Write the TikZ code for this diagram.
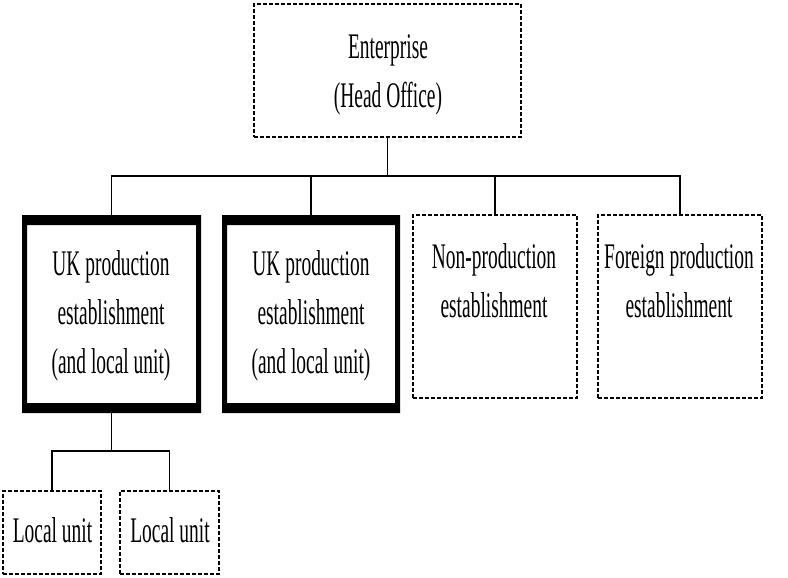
\documentclass[tikz,border=0pt]{standalone}
\usepackage{fontspec}
\setmainfont[FakeStretch=0.54]{Liberation Serif}
\begin{document}
\begin{tikzpicture}[x=1pt,y=-1pt,
  dbox/.style={draw, dash pattern=on 4pt off 2pt, line width=1.5pt, inner sep=0pt},
  tbox/.style={inner sep=0pt, outer sep=0pt},
  lbl/.style={inner sep=0pt, align=center, anchor=base, font=\fontsize{36}{49}\selectfont},
  conn/.style={line width=1.6pt}]
\useasboundingbox (0,0) rectangle (788,578);
% boxes
\node[dbox, minimum width=267pt, minimum height=133pt] (head) at (387.5,70.5) {};
\node[tbox, minimum width=179pt, minimum height=198pt] (uk1) at (111.5,314) {};
\node[tbox, minimum width=178pt, minimum height=198pt] (uk2) at (311,314) {};
\node[dbox, minimum width=164pt, minimum height=183pt] (nonp) at (495,306.5) {};
\node[dbox, minimum width=164pt, minimum height=183pt] (foreign) at (680,306.5) {};
\node[dbox, minimum width=98pt, minimum height=83pt] (loc1) at (52,532.5) {};
\node[dbox, minimum width=99pt, minimum height=83pt] (loc2) at (169.5,532.5) {};
% thick frames
\foreach \b in {uk1,uk2}{
  \fill[even odd rule] (\b.north west) rectangle (\b.south east)
    ([xshift=5pt,yshift=-10pt]\b.north west) rectangle ([xshift=-5pt,yshift=10pt]\b.south east);
}
% texts (anchor base = baseline of last line)
\node[lbl] (thead) at (388,107) {Enterprise\\(Head Office)};
\node[lbl] (tuk1) at (111,373) {UK production\\establishment\\(and local unit)};
\node[lbl] (tuk2) at (311,373) {UK production\\establishment\\(and local unit)};
\node[lbl] (tnonp) at (494,317) {Non-production\\establishment};
\node[lbl] (tforeign) at (679,317) {Foreign production\\establishment};
\node[lbl] (tloc1) at (52.5,542) {Local unit};
\node[lbl] (tloc2) at (170,542) {Local unit};
% connectors
\coordinate (bus) at (388,176);
\coordinate (sub) at (111,451);
\draw[conn] (head.south) -- (head.south |- bus);
\draw[conn] (uk1.north) |- (foreign.north |- bus) -- (foreign.north);
\draw[conn] (uk2.north) -- (uk2.north |- bus);
\draw[conn] (nonp.north) -- (nonp.north |- bus);
\draw[conn] (uk1.south) -- (uk1.south |- sub);
\draw[conn] (loc1.north) |- (loc2.north |- sub) -- (loc2.north);
\end{tikzpicture}
\end{document}
